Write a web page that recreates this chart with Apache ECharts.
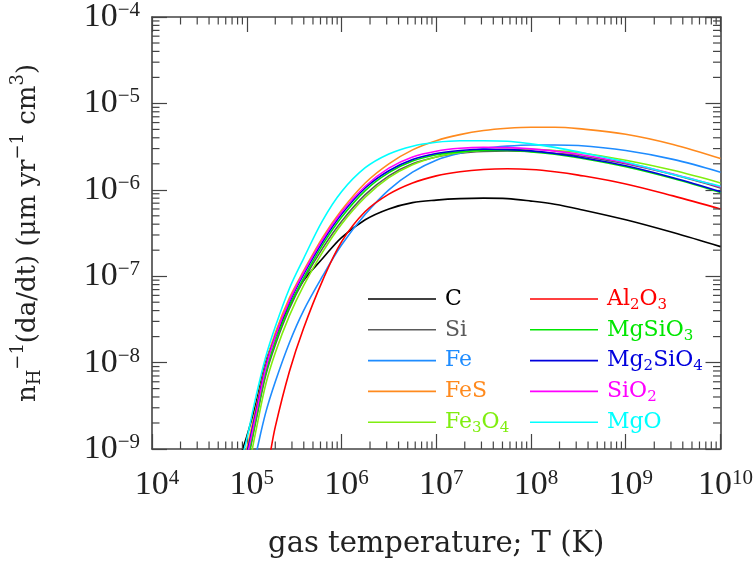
<!DOCTYPE html>
<html><head><meta charset="utf-8">
<script src="https://cdn.jsdelivr.net/npm/echarts@6/dist/echarts.min.js"></script>
<style>html,body{margin:0;padding:0;background:#fff}#c{width:756px;height:565px}</style>
</head><body><div id="c"></div>
<script>
// gas temperature T (K)
const T = [7e4, 1e5, 1.26e5, 1.58e5, 2e5, 2.82e5, 3.98e5, 6.31e5, 1e6, 1.78e6, 3.16e6, 5.62e6, 1e7, 1.78e7, 3.16e7, 5.62e7, 1e8, 1.78e8, 3.16e8, 1e9, 3.16e9, 1e10];
// n_H^-1 da/dt (um yr^-1 cm^3)
const C_vals      = [4.5e-10, 1.4e-9, 3.5e-9, 1.0e-8, 2.0e-8, 4.5e-8, 8.9e-8, 1.6e-7, 2.8e-7, 4.5e-7, 6.0e-7, 7.1e-7, 7.6e-7, 7.9e-7, 8.0e-7, 7.9e-7, 7.4e-7, 6.8e-7, 6.0e-7, 4.5e-7, 3.2e-7, 2.2e-7];
const Si_vals     = [1.5e-10, 6.5e-10, 2.2e-9, 7.0e-9, 1.6e-8, 4.2e-8, 9.0e-8, 2.1e-7, 4.3e-7, 8.8e-7, 1.45e-6, 2.0e-6, 2.4e-6, 2.65e-6, 2.78e-6, 2.82e-6, 2.78e-6, 2.65e-6, 2.48e-6, 2.0e-6, 1.5e-6, 1.05e-6];
const Fe_vals     = [6e-11, 3e-10, 9e-10, 2.6e-9, 6e-9, 1.7e-8, 4.0e-8, 1.0e-7, 2.3e-7, 5.2e-7, 1.0e-6, 1.6e-6, 2.2e-6, 2.65e-6, 3.0e-6, 3.2e-6, 3.3e-6, 3.3e-6, 3.25e-6, 2.85e-6, 2.25e-6, 1.6e-6];
const FeS_vals    = [2.2e-10, 1.0e-9, 3.1e-9, 9.5e-9, 2.2e-8, 5.6e-8, 1.15e-7, 2.8e-7, 5.8e-7, 1.2e-6, 2.0e-6, 2.9e-6, 3.7e-6, 4.35e-6, 4.85e-6, 5.15e-6, 5.3e-6, 5.3e-6, 5.1e-6, 4.4e-6, 3.35e-6, 2.3e-6];
const Fe3O4_vals  = [1.2e-10, 5e-10, 1.7e-9, 5.5e-9, 1.3e-8, 3.5e-8, 7.8e-8, 1.9e-7, 4.0e-7, 8.2e-7, 1.38e-6, 1.95e-6, 2.4e-6, 2.7e-6, 2.88e-6, 2.95e-6, 2.95e-6, 2.85e-6, 2.7e-6, 2.2e-6, 1.68e-6, 1.2e-6];
const Al2O3_vals  = [2e-11, 1.2e-10, 2.8e-10, 5e-10, 1.8e-9, 7.9e-9, 2.5e-8, 8.9e-8, 2.5e-7, 5.6e-7, 8.9e-7, 1.2e-6, 1.45e-6, 1.62e-6, 1.72e-6, 1.75e-6, 1.72e-6, 1.62e-6, 1.48e-6, 1.17e-6, 8.5e-7, 6.0e-7];
const MgSiO3_vals = [1.6e-10, 7e-10, 2.3e-9, 7.5e-9, 1.75e-8, 4.5e-8, 9.5e-8, 2.3e-7, 4.8e-7, 9.8e-7, 1.58e-6, 2.15e-6, 2.55e-6, 2.75e-6, 2.85e-6, 2.85e-6, 2.75e-6, 2.58e-6, 2.35e-6, 1.85e-6, 1.35e-6, 9.3e-7];
const Mg2SiO4_vals= [2.0e-10, 8.9e-10, 2.8e-9, 8.9e-9, 2.0e-8, 5.0e-8, 1.05e-7, 2.5e-7, 5.2e-7, 1.05e-6, 1.66e-6, 2.24e-6, 2.63e-6, 2.85e-6, 2.95e-6, 2.92e-6, 2.82e-6, 2.63e-6, 2.4e-6, 1.9e-6, 1.38e-6, 9.5e-7];
const SiO2_vals   = [1.8e-10, 8e-10, 2.6e-9, 8.5e-9, 2.0e-8, 5.2e-8, 1.1e-7, 2.65e-7, 5.5e-7, 1.1e-6, 1.78e-6, 2.4e-6, 2.8e-6, 3.02e-6, 3.1e-6, 3.08e-6, 2.98e-6, 2.8e-6, 2.58e-6, 2.05e-6, 1.52e-6, 1.08e-6];
const MgO_vals    = [2.5e-10, 1.3e-9, 4.2e-9, 1.15e-8, 2.6e-8, 7.2e-8, 1.6e-7, 4.4e-7, 9.5e-7, 1.8e-6, 2.6e-6, 3.2e-6, 3.55e-6, 3.7e-6, 3.7e-6, 3.65e-6, 3.4e-6, 3.1e-6, 2.75e-6, 2.1e-6, 1.5e-6, 1.1e-6];

const names  = ['C','Si','Fe','FeS','Fe3O4','Al2O3','MgSiO3','Mg2SiO4','SiO2','MgO'];
const labels = ['C','Si','Fe','FeS','Fe{s|3}O{s|4}','Al{s|2}O{s|3}','MgSiO{s|3}','Mg{s|2}SiO{s|4}','SiO{s|2}','MgO'];
const seriesVals = [C_vals, Si_vals, Fe_vals, FeS_vals, Fe3O4_vals, Al2O3_vals, MgSiO3_vals, Mg2SiO4_vals, SiO2_vals, MgO_vals];
const colors = ['#000000','#5a5a5a','#1e8cff','#ff8a1e','#80ee10','#ff0000','#00e600','#0000dd','#ff00ff','#00ffff'];

// axis range and minor tick positions (2..9 x decade)
const X_MIN = 1e4, X_MAX = 1e10, Y_MIN = 1e-9, Y_MAX = 1e-4;
const xMinor = [], yMinor = [];
for (let e = 4; e < 10; e++) for (let k = 2; k <= 9; k++) xMinor.push(k * Math.pow(10, e));
for (let e = -9; e < -4; e++) for (let k = 2; k <= 9; k++) yMinor.push(k * Math.pow(10, e));

const FONT = 'Liberation Serif';
const TFONT = 'DejaVu Serif';
const AX = '#444';
const supRich = {
  b: {fontFamily: FONT, fontSize: 34, lineHeight: 34, color: '#222'},
  s: {fontFamily: FONT, fontSize: 21, lineHeight: 12, verticalAlign: 'top', color: '#222'}
};
function expLabel(v) {
  const e = Math.round(Math.log10(v));
  return '{b|10}{s|' + String(e).replace('-', '\u2212') + '}';
}

const chart = echarts.init(document.getElementById('c'), null, {renderer: 'canvas'});
const series = names.map((n, i) => ({
  name: n, type: 'line', data: T.map((t, j) => [t, seriesVals[i][j]]),
  showSymbol: false, symbol: 'none', smooth: 0.35, clip: true, color: colors[i],
  lineStyle: {width: 1.6, color: colors[i]}, itemStyle: {color: colors[i]}, z: 3 + i
}));

function minorTickSeries(vals, isX) {
  return {
    type: 'custom', silent: true, z: 20, clip: false,
    data: vals.map(v => isX ? [v, 1e-6] : [1e6, v]),
    renderItem: function (params, api) {
      const cs = params.coordSys;
      const L = 7.5;
      const st = {stroke: AX, lineWidth: 1.2};
      if (isX) {
        const px = api.coord([api.value(0), 1e-6])[0];
        return {type: 'group', children: [
          {type: 'line', shape: {x1: px, y1: cs.y + cs.height, x2: px, y2: cs.y + cs.height - L}, style: st},
          {type: 'line', shape: {x1: px, y1: cs.y, x2: px, y2: cs.y + L}, style: st}
        ]};
      } else {
        const py = api.coord([1e6, api.value(1)])[1];
        return {type: 'group', children: [
          {type: 'line', shape: {x1: cs.x, y1: py, x2: cs.x + L, y2: py}, style: st},
          {type: 'line', shape: {x1: cs.x + cs.width, y1: py, x2: cs.x + cs.width - L, y2: py}, style: st}
        ]};
      }
    }
  };
}
series.push(minorTickSeries(xMinor, true));
series.push(minorTickSeries(yMinor, false));

const legendText = {
  fontFamily: 'DejaVu Serif', fontSize: 22, lineHeight: 30, padding: [0,0,0,4],
  rich: {s: {fontFamily: 'DejaVu Serif', fontSize: 15, lineHeight: 16, padding: [12,0,0,0]}}
};
function legendCfg(idx, left) {
  return {
    orient: 'vertical', left: left, top: 284, padding: 0, itemGap: 0.8,
    itemWidth: 68, itemHeight: 1.6, icon: 'rect', selectedMode: false,
    data: idx.map(i => ({name: names[i], textStyle: {color: colors[i]}})),
    formatter: n => labels[names.indexOf(n)],
    textStyle: legendText
  };
}

const axisCommon = {
  type: 'log', logBase: 10,
  axisLine: {show: true, lineStyle: {color: AX, width: 1.6}},
  axisTick: {show: true, inside: true, length: 15, lineStyle: {color: AX, width: 1.2}},
  splitLine: {show: false}, minorTick: {show: false}
};

chart.setOption({
  animation: false,
  backgroundColor: '#fff',
  grid: {left: 150, right: 35, top: 17, bottom: 114, containLabel: false},
  legend: [legendCfg([0,1,2,3,4], 368), legendCfg([5,6,7,8,9], 530)],
  xAxis: [
    Object.assign({}, axisCommon, {
      position: 'bottom', min: X_MIN, max: X_MAX,
      axisLabel: {show: true, margin: 19, formatter: expLabel, rich: supRich, padding: [0,0,0,10]},
      name: 'gas temperature; T (K)', nameLocation: 'middle', nameGap: 79,
      nameTextStyle: {fontFamily: TFONT, fontSize: 29, lineHeight: 32, color: '#222'}
    }),
    Object.assign({}, axisCommon, {position: 'top', min: X_MIN, max: X_MAX, axisLabel: {show: false}})
  ],
  yAxis: [
    Object.assign({}, axisCommon, {
      position: 'left', min: Y_MIN, max: Y_MAX,
      axisLabel: {show: true, margin: 12, formatter: expLabel, rich: supRich},
      name: 'n{sub|H}{sup|\u22121}(da/dt) (\u03bcm yr{sup|\u22121} cm{sup|3})',
      nameLocation: 'middle', nameGap: 104, nameRotate: 90,
      nameTextStyle: {fontFamily: TFONT, fontSize: 26, color: '#222', lineHeight: 40,
        rich: {
          sub: {fontFamily: TFONT, fontSize: 18, lineHeight: 18, padding: [14,0,0,0], color: '#222'},
          sup: {fontFamily: TFONT, fontSize: 18, lineHeight: 18, padding: [0,0,20,0], color: '#222'}
        }}
    }),
    Object.assign({}, axisCommon, {position: 'right', min: Y_MIN, max: Y_MAX, axisLabel: {show: false}})
  ],
  series: series
});
</script></body></html>
